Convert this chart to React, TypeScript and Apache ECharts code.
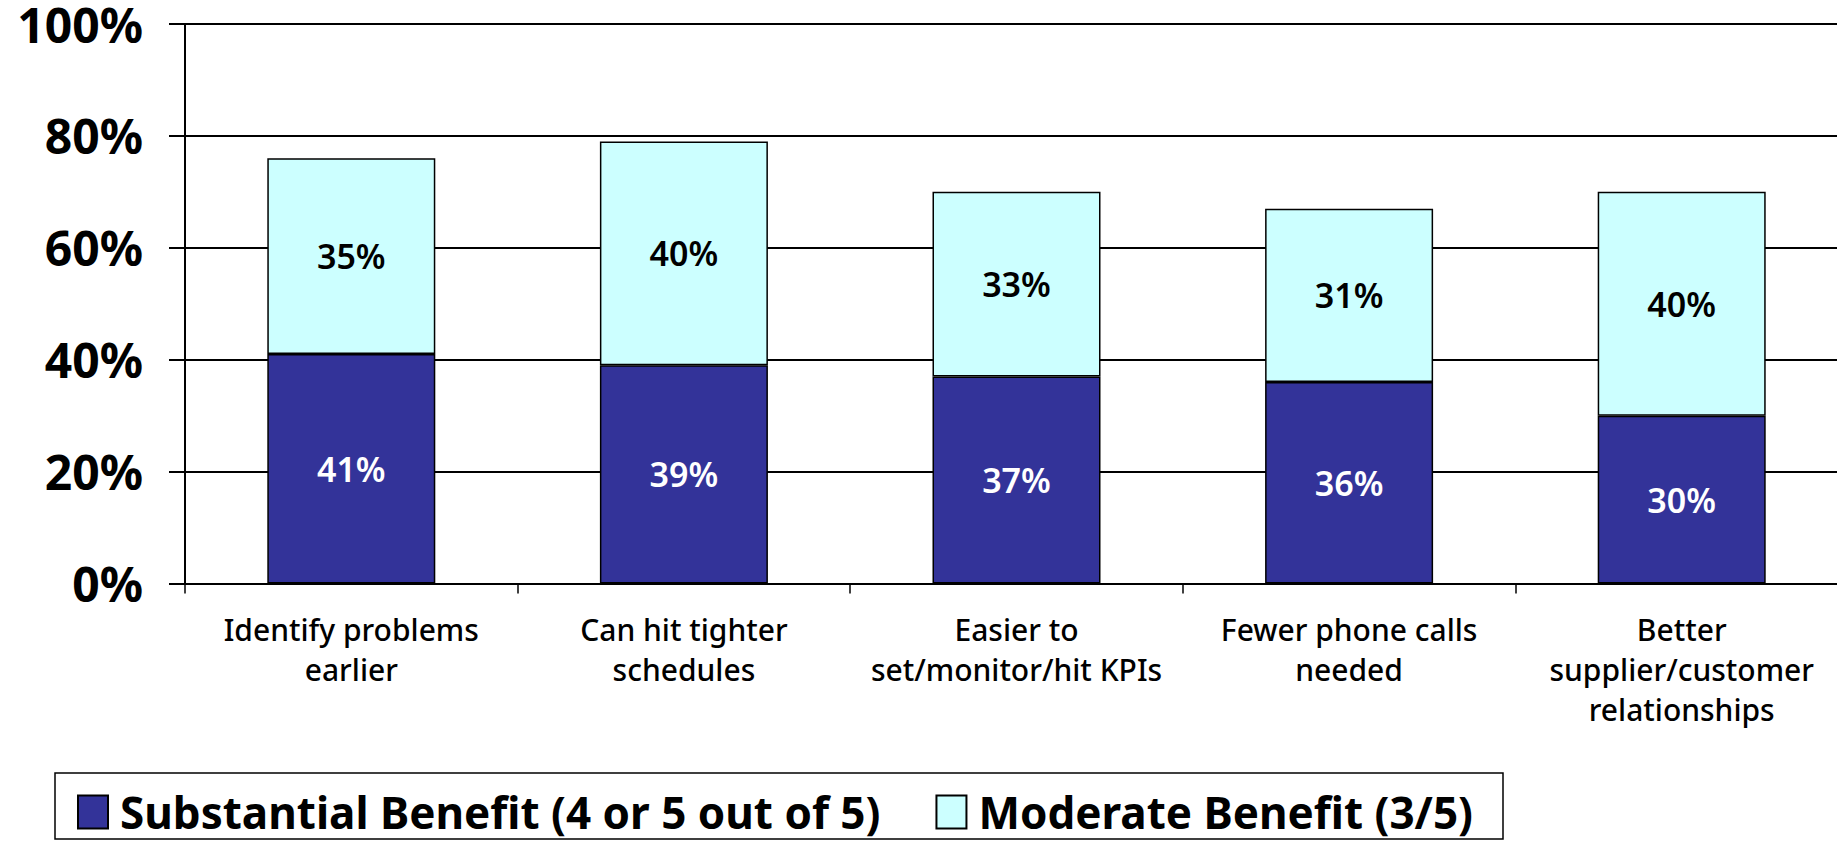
import React, { useEffect, useRef } from "react";
import * as echarts from "echarts";

const categories = [
  "Identify problems\nearlier",
  "Can hit tighter\nschedules",
  "Easier to\nset/monitor/hit KPIs",
  "Fewer phone calls\nneeded",
  "Better\nsupplier/customer\nrelationships",
];
const substantial = [41, 39, 37, 36, 30];
const moderate = [35, 40, 33, 31, 40];
const seriesNames = ["Substantial Benefit (4 or 5 out of 5)", "Moderate Benefit (3/5)"];
const yTicks = { min: 0, max: 100, interval: 20 };

export default function App() {
  const ref = useRef<HTMLDivElement>(null);
  useEffect(() => {
    if (!ref.current) return;
    const chart = echarts.init(ref.current, null, { renderer: "svg" });
    const font = "'Noto Sans', sans-serif";
    chart.setOption({
      animation: false,
      backgroundColor: "#ffffff",
      textStyle: { fontFamily: font },
      grid: { left: 185, right: 12, top: 23.5, bottom: 257.5, containLabel: false },
      xAxis: {
        type: "category",
        data: categories,
        axisLine: { show: true, lineStyle: { color: "#000", width: 2 } },
        axisTick: { show: true, length: 10, lineStyle: { color: "#000", width: 1.5 } },
        axisLabel: {
          interval: 0,
          color: "#000",
          fontFamily: font,
          fontSize: 30,
          fontWeight: 500,
          lineHeight: 40,
          margin: 26,
        },
      },
      yAxis: {
        type: "value",
        min: yTicks.min,
        max: yTicks.max,
        interval: yTicks.interval,
        axisLine: { show: true, lineStyle: { color: "#000", width: 2 } },
        axisTick: { show: true, length: 16, lineStyle: { color: "#000", width: 2 } },
        splitLine: { show: true, lineStyle: { color: "#000", width: 2 } },
        axisLabel: {
          formatter: "{value}%",
          color: "#000",
          fontFamily: font,
          fontSize: 48,
          fontWeight: "bold",
          lineHeight: 40,
          padding: [7, 0, 0, 0],
          margin: 42,
        },
      },
      legend: {
        left: 72,
        top: 785,
        itemWidth: 30,
        itemHeight: 33,
        itemGap: 55,
        icon: "rect",
        data: seriesNames,
        textStyle: {
          fontFamily: font,
          fontSize: 44,
          fontWeight: "bold",
          lineHeight: 44,
          color: "#000",
          padding: [0, 0, 0, 7],
        },
      },
      graphic: [
        {
          type: "rect",
          shape: { x: 55, y: 773, width: 1448, height: 66 },
          style: { fill: "none", stroke: "#000", lineWidth: 1.5 },
          silent: true,
          z: 100,
        },
      ],
      series: [
        {
          name: seriesNames[0],
          type: "bar",
          stack: "total",
          barWidth: 168,
          data: substantial,
          itemStyle: { color: "#333399", borderColor: "#000", borderWidth: 1.5 },
          label: {
            show: true,
            position: "inside",
            formatter: "{c}%",
            color: "#ffffff",
            fontFamily: font,
            fontSize: 34,
            fontWeight: 600,
          },
        },
        {
          name: seriesNames[1],
          type: "bar",
          stack: "total",
          barWidth: 168,
          data: moderate,
          itemStyle: { color: "#CCFFFF", borderColor: "#000", borderWidth: 1.5 },
          label: {
            show: true,
            position: "inside",
            formatter: "{c}%",
            color: "#000",
            fontFamily: font,
            fontSize: 34,
            fontWeight: 600,
          },
        },
      ],
    });
    return () => chart.dispose();
  }, []);
  return (
    <div
      style={{
        position: "absolute",
        left: 0,
        top: 0,
        width: 1837,
        height: 841,
        overflow: "hidden",
      }}
    >
      <div ref={ref} style={{ width: 1860, height: 841 }} />
    </div>
  );
}
